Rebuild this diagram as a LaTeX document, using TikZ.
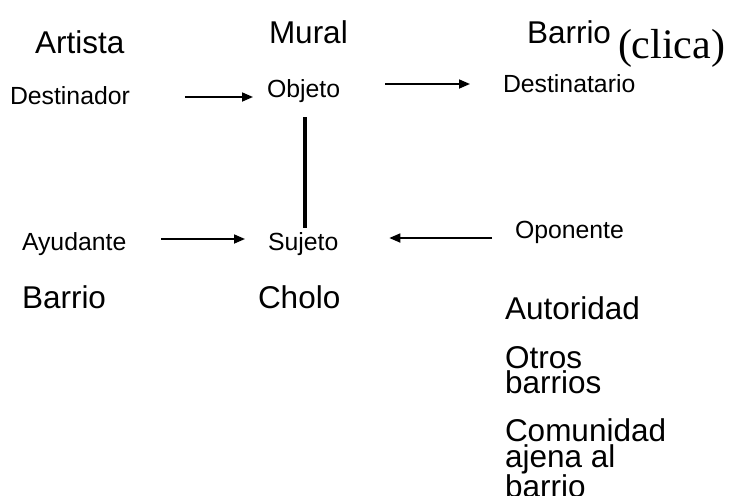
\documentclass[tikz,border=0pt]{standalone}
\usepackage{fontspec}
\setmainfont{Liberation Sans}
\newfontfamily\timesf{Liberation Serif}
\usetikzlibrary{arrows.meta}
\begin{document}
\begin{tikzpicture}[x=1pt,y=-1pt,
  lbl/.style={inner sep=0pt,outer sep=0pt,anchor=base west},
  big/.style={lbl,font=\fontsize{31.5}{25.5}\selectfont},
  small/.style={lbl,font=\fontsize{24.8}{28}\selectfont},
  arr/.style={line width=1.7pt,-{Triangle[length=11pt,width=9pt]}},
  bar/.style={line width=4.5pt}]
\useasboundingbox (0,0) rectangle (732,496);
% top labels
\node[big] (artista) at (35,53) {Artista};
\node[big] (mural) at (269,43) {Mural};
\node[big] (barrioA) at (527,43) {Barrio};
\node[lbl,font=\timesf\fontsize{42}{46}\selectfont] (clica) at (618,58) {(clica)};
% actants
\node[small] (destinador) at (10,104) {Destinador};
\node[small] (objeto) at (267,97) {Objeto};
\node[small] (destinatario) at (503,92) {Destinatario};
\node[small] (ayudante) at (22,250) {Ayudante};
\node[small] (sujeto) at (268,250) {Sujeto};
\node[small] (oponente) at (515,238) {Oponente};
% bottom labels
\node[big] (barrioB) at (22,308) {Barrio};
\node[big] (cholo) at (258,308) {Cholo};
\node[big] (autoridad) at (505,319) {Autoridad};
\node[big,anchor=north west,align=left] (otros) at (505,346) {Otros\\barrios};
\node[big,anchor=north west,align=left] (comunidad) at (505,419) {Comunidad\\ajena al\\barrio};
% connectors
\draw[arr] ([shift={(55,-7)}]destinador.base east) -- ([shift={(-14,0)}]objeto.base west);
\draw[arr] ([shift={(45,-13)}]objeto.base east) -- ([shift={(-33,-8)}]destinatario.base west);
\draw[bar] ([shift={(1.5,20)}]objeto.base) -- ([shift={(1.5,-22)}]objeto.base |- sujeto.base);
\draw[arr] ([shift={(35,-11)}]ayudante.base east) -- ([shift={(-23,-11)}]sujeto.base west);
\draw[arr] ([shift={(-23,0)}]oponente.base west) -- ([shift={(51,-12)}]sujeto.base east);
\end{tikzpicture}
\end{document}
